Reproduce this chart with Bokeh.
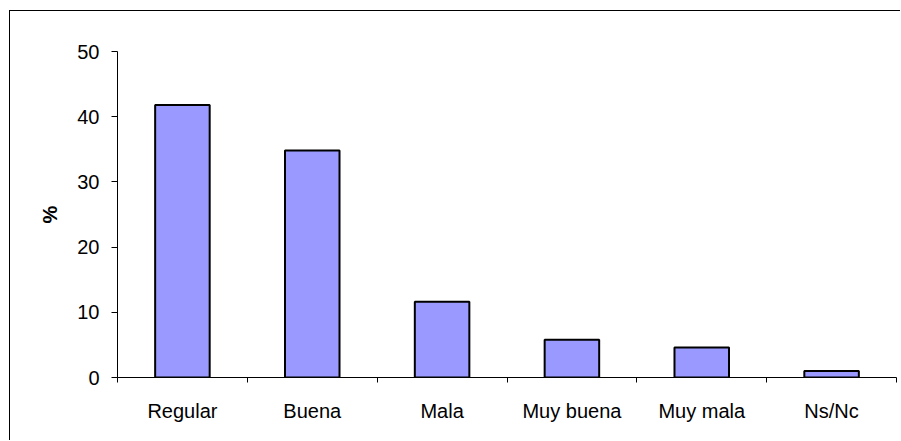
from bokeh.plotting import figure
from bokeh.models import FixedTicker, Range1d
from bokeh.embed import file_html
from bokeh.resources import INLINE

categories = ["Regular", "Buena", "Mala", "Muy buena", "Muy mala", "Ns/Nc"]
values = [41.8, 34.8, 11.6, 5.8, 4.6, 1.0]
y_ticks = [0, 10, 20, 30, 40, 50]

xs = [i + 0.5 for i in range(len(categories))]

p = figure(width=891, height=430, output_backend="svg", toolbar_location=None,
           x_range=Range1d(0, len(categories)), y_range=Range1d(0, 50),
           min_border_left=107, min_border_top=40, min_border_right=5, min_border_bottom=64)
p.styles = {"border-left": "1px solid black", "border-top": "1px solid black",
            "margin-left": "9px", "margin-top": "10px"}

p.vbar(x=xs, top=values, width=0.42, bottom=0, fill_color="#9999FF",
       line_color="black", line_width=2)

p.grid.visible = False
p.outline_line_color = None
p.background_fill_color = "white"
p.border_fill_color = "white"

font = "Liberation Sans"

# x axis
p.xaxis.ticker = FixedTicker(ticks=xs, minor_ticks=list(range(len(categories) + 1)))
p.xaxis.major_label_overrides = {x: c for x, c in zip(xs, categories)}
p.xaxis.major_tick_out = 0
p.xaxis.major_tick_in = 0
p.xaxis.minor_tick_out = 5
p.xaxis.minor_tick_in = 0
p.xaxis.major_label_standoff = 17
p.xaxis.major_label_text_font = font
p.xaxis.major_label_text_font_size = "20px"
p.xaxis.major_label_text_color = "black"
p.xaxis.axis_line_color = "black"
p.xaxis.minor_tick_line_color = "black"

# y axis
p.yaxis.ticker = FixedTicker(ticks=y_ticks, minor_ticks=[])
p.yaxis.major_tick_out = 6
p.yaxis.major_tick_in = 0
p.yaxis.major_label_standoff = 12
p.yaxis.major_label_text_font = font
p.yaxis.major_label_text_font_size = "20px"
p.yaxis.major_label_text_color = "black"
p.yaxis.axis_label = "%"
p.yaxis.axis_label_text_font = font
p.yaxis.axis_label_text_font_size = "20px"
p.yaxis.axis_label_text_font_style = "bold"
p.yaxis.axis_label_text_color = "black"
p.yaxis.axis_label_standoff = 13
p.yaxis.axis_line_color = "black"
p.yaxis.major_tick_line_color = "black"

open("out.html", "w").write(file_html(p, INLINE))
